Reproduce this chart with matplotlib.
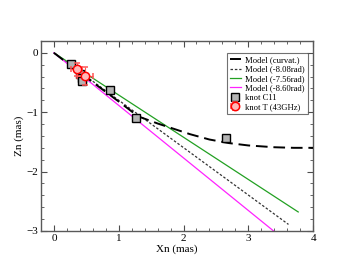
import numpy as np
import matplotlib
matplotlib.use("Agg")
import matplotlib.pyplot as plt
from matplotlib.ticker import MultipleLocator

plt.rcParams['font.family'] = ['Liberation Serif', 'DejaVu Serif']

# modelo com curvatura
curv_x = [0.0, 0.3, 0.63, 1.0, 1.3, 1.6, 1.85, 2.1, 2.4, 2.7, 3.0, 3.4, 3.7, 4.0]
curv_y = [0.0, -0.25, -0.52, -0.82, -1.07, -1.19, -1.28, -1.37, -1.46, -1.52, -1.56, -1.59, -1.60, -1.60]

# modelos retos
m808_x = [0.0, 3.62]
m808_y = [0.0, -2.89]
m756_x = [0.0, 3.77]
m756_y = [0.0, -2.68]
m860_x = [0.0, 3.39]
m860_y = [0.0, -3.0]

# knots
c11_x = [0.26, 0.40, 0.43, 0.44, 0.86, 1.26, 2.66]
c11_y = [-0.18, -0.36, -0.42, -0.47, -0.62, -1.10, -1.44]

t_x = [0.35, 0.48]
t_y = [-0.28, -0.39]
t_xerr = [0.08, 0.12]
t_yerr = [0.11, 0.15]

fig = plt.figure(figsize=(3.53, 2.73), dpi=100)
ax = fig.add_axes([0.116, 0.154, 0.771, 0.696])

ax.plot(curv_x, curv_y, color='black', lw=1.4, dashes=(6, 3), label='Model (curvat.)', zorder=3)
ax.plot(m808_x, m808_y, color='0.2', lw=0.9, dashes=(2, 1.5), label='Model (-8.08rad)', zorder=2)
ax.plot(m756_x, m756_y, color='#22a022', lw=0.9, label='Model (-7.56rad)', zorder=2)
ax.plot(m860_x, m860_y, color='#ff22ff', lw=0.9, label='Model (-8.60rad)', zorder=2)
ax.plot(c11_x, c11_y, ls='none', marker='s', ms=6, mfc='#b4b4b4', mec='black', mew=1.0,
        label='knot C11', zorder=4)
ax.errorbar(t_x, t_y, xerr=t_xerr, yerr=t_yerr, fmt='o', ms=6, mfc='#ffb8b8', mec='red',
            mew=1.1, ecolor='#ff5555', elinewidth=0.8, capsize=2, label='knot T (43GHz)', zorder=5)

ax.set_xlim(-0.2, 4.0)
ax.set_ylim(-3.0, 0.2)
ax.xaxis.set_major_locator(MultipleLocator(1))
ax.xaxis.set_minor_locator(MultipleLocator(0.2))
ax.yaxis.set_major_locator(MultipleLocator(1))
ax.yaxis.set_minor_locator(MultipleLocator(0.2))
ax.tick_params(which='both', direction='in', top=True, right=True, labelsize=8, colors='0.3',
               labelcolor='black', pad=2)
ax.tick_params(which='major', length=4)
ax.tick_params(which='minor', length=2.5)
for s in ax.spines.values():
    s.set_color('0.35')
    s.set_linewidth(1.0)

ax.set_xlabel('Xn (mas)', fontsize=8, labelpad=1)
ax.set_ylabel('Zn (mas)', fontsize=8, labelpad=2)

leg = ax.legend(loc='upper right', bbox_to_anchor=(0.98, 0.935), fontsize=6.2, frameon=True,
                fancybox=False, edgecolor='0.3', handlelength=1.3, handletextpad=0.5,
                labelspacing=0.15, borderpad=0.35, borderaxespad=0)
leg.get_frame().set_linewidth(0.8)

fig.savefig('out.png', dpi=100)
